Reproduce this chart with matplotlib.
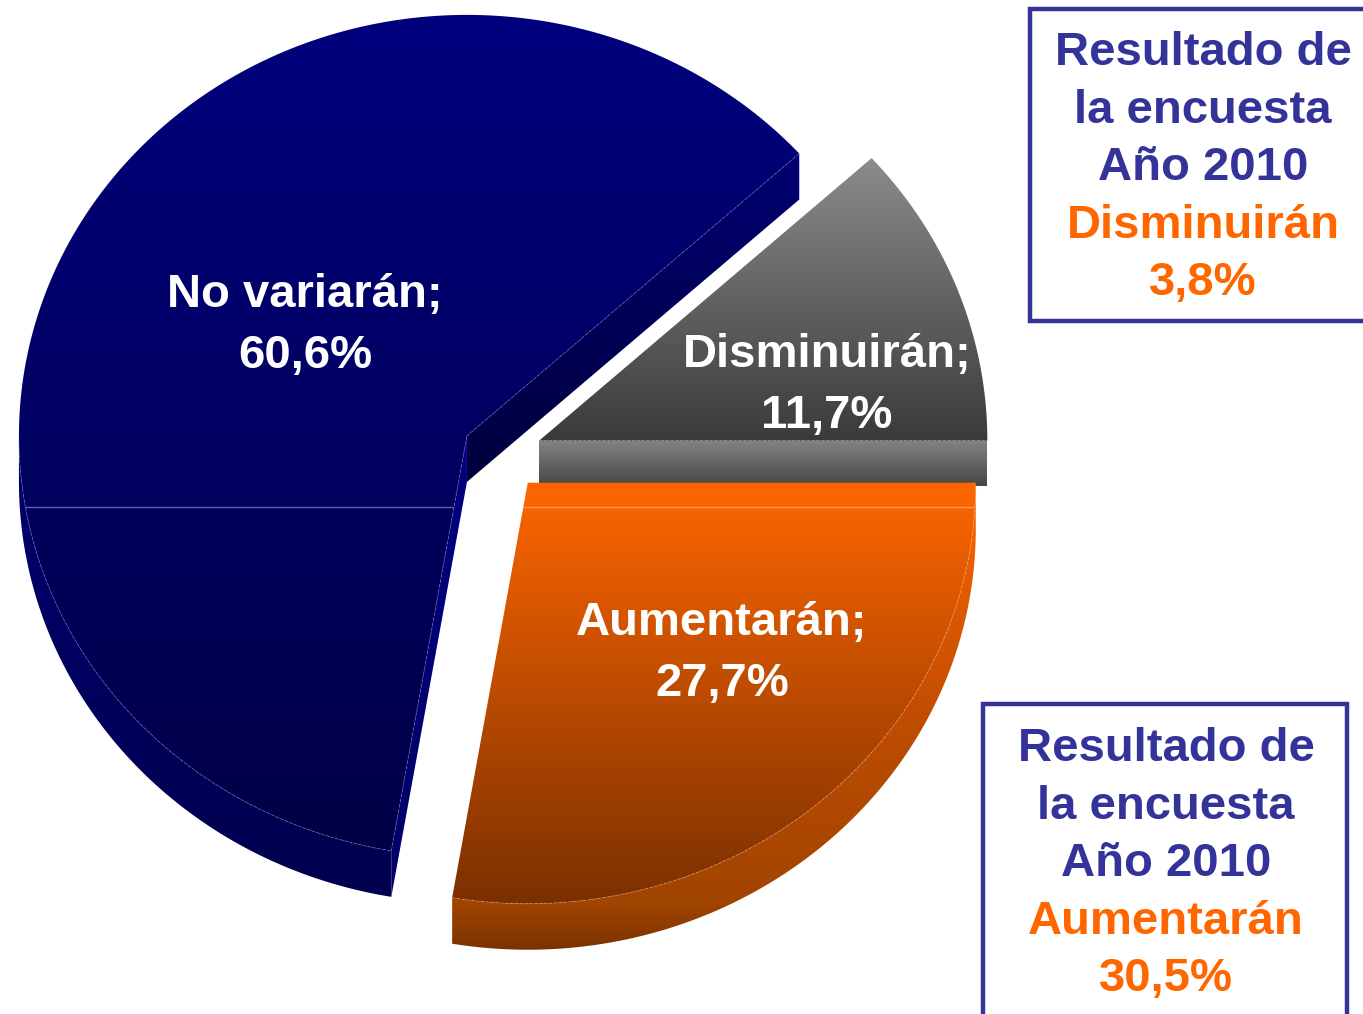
import numpy as np
import matplotlib
matplotlib.use("Agg")
import matplotlib.pyplot as plt
from matplotlib.patches import Polygon, Rectangle
from matplotlib.colors import to_rgb

# Survey result: expected change (share of answers, %)
categories = ["Disminuirán", "No variarán", "Aumentarán"]
shares = [11.7, 60.6, 27.7]

# Side notes: previous-year result
note_header = ["Resultado de", "la encuesta", "Año 2010"]
note_categories = ["Disminuirán", "Aumentarán"]
note_values = [3.8, 30.5]

FONT = ["Liberation Sans", "DejaVu Sans"]
NAVY_TXT = "#333399"
ORANGE = "#FF6600"

# face colour ramps (position along height, colour) per slice
STYLE = {
    "Disminuirán": {"top": [(0, "#8c8c8c"), (1, "#3a3a3a")],
                    "wall": [(0, "#7a7a7a"), (1, "#555555")],
                    "cut": [(0, "#858585"), (1, "#444444")]},
    "No variarán": {"top": [(0, "#00007e"), (1, "#000046")],
                    "wall": [(0, "#000070"), (1, "#00004e")],
                    "cut": [(0, "#000072"), (1, "#00003c")],
                    "cut_end": [(0, "#000082"), (1, "#000066")]},
    "Aumentarán": {"top": [(0, "#ff6600"), (1, "#7a3000")],
                   "wall": [(0, "#ff6600"), (0.5, "#c04d00"),
                            (0.9, "#a04400"), (1, "#7a3200")],
                   "cut": [(0, "#ff6600"), (1, "#7a3000")]},
}

fig = plt.figure(figsize=(13.63, 10.14), dpi=100)
ax = fig.add_axes([0, 0, 1, 1])
W, H = 1363, 1014

# pie geometry (pixel space, y grows downward)
CX, CY = 502.0, 454.0
RX, RY = 448.0, 421.0
DEPTH = 46.0
EXPLODE = 40.0


def pt(c, theta_deg, dy=0.0):
    t = np.deg2rad(theta_deg)
    return (c[0] + RX * np.cos(t), c[1] - RY * np.sin(t) + dy)


def arc(c, a, b, dy=0.0, n=200):
    th = np.linspace(a, b, n)
    t = np.deg2rad(th)
    return np.column_stack([c[0] + RX * np.cos(t), c[1] - RY * np.sin(t) + dy])


def gradient_fill(verts, stops, zorder):
    verts = np.asarray(verts)
    patch = Polygon(verts, closed=True, facecolor="none", edgecolor="none",
                    zorder=zorder)
    ax.add_patch(patch)
    y0, y1 = verts[:, 1].min(), verts[:, 1].max()
    x0, x1 = verts[:, 0].min(), verts[:, 0].max()
    n = 256
    pos = np.array([p for p, _ in stops], dtype=float)
    rgb = np.array([to_rgb(c) for _, c in stops])
    s = np.linspace(0, 1, n)
    col = np.column_stack([np.interp(s, pos, rgb[:, k]) for k in range(3)])
    img = np.repeat(col[:, None, :], 2, axis=1)
    im = ax.imshow(img, extent=(x0 - 1, x1 + 1, y1 + 1, y0 - 1), origin="upper",
                   aspect="auto", interpolation="bilinear", zorder=zorder)
    im.set_clip_path(patch)
    return patch


def faint(points, color, zorder, ls="--", alpha=0.45):
    p = np.asarray(points)
    ax.plot(p[:, 0], p[:, 1], color=color, lw=0.7, ls=ls, alpha=alpha,
            zorder=zorder, dashes=(3, 2) if ls == "--" else (None, None))


total = float(sum(shares))
bounds = np.concatenate([[0.0], np.cumsum(shares) / total * 360.0])
faint_col = {"Disminuirán": "#bbbbbb", "No variarán": "#8888cc",
             "Aumentarán": "#ffb080"}

for i, name in enumerate(categories):
    a1, a2 = bounds[i], bounds[i + 1]
    mid = np.deg2rad((a1 + a2) / 2)
    c = (CX + EXPLODE * np.cos(mid), CY - EXPLODE * (RY / RX) * np.sin(mid))
    st = STYLE[name]
    z = 2 + i * 3

    # outer side wall (front half of the rim)
    lo, hi = max(a1, 180.0), min(a2, 360.0)
    if hi > lo:
        top = arc(c, lo, hi)
        bot = arc(c, lo, hi, DEPTH)[::-1]
        gradient_fill(np.vstack([top, bot]), st["wall"], z)

    # radial cut faces that face the viewer
    if np.cos(np.deg2rad(a1)) > 1e-6:
        p = pt(c, a1)
        verts = [c, p, (p[0], p[1] + DEPTH), (c[0], c[1] + DEPTH)]
        gradient_fill(verts, st["cut"], z)
        faint([c, p], faint_col[name], z + 2)
    if np.cos(np.deg2rad(a2)) < -1e-6:
        p = pt(c, a2)
        verts = [c, p, (p[0], p[1] + DEPTH), (c[0], c[1] + DEPTH)]
        gradient_fill(verts, st.get("cut_end", st["cut"]), z)
        faint([c, p], faint_col[name], z + 2)

    # top face
    top_face = np.vstack([[c], arc(c, a1, a2, n=400)])
    face = gradient_fill(top_face, st["top"], z + 1)
    if hi > lo:
        faint(arc(c, lo, hi), faint_col[name], z + 2)

    # light seam across the lower slices
    if name != "Disminuirán":
        ln, = ax.plot([0, W], [507, 507], color=faint_col[name], lw=1.0,
                      alpha=0.7, zorder=z + 2)
        ln.set_clip_path(face)

# slice labels
label_pos = {"Disminuirán": (827, 367), "No variarán": (305, 307),
             "Aumentarán": (722, 635)}
for name, v in zip(categories, shares):
    x, y = label_pos[name]
    ax.text(x, y, f"{name};", color="white", fontsize=34, fontweight="bold",
            family=FONT, ha="center", va="baseline", zorder=20)
    ax.text(x, y + 61, f"{v:.1f}%".replace(".", ","), color="white",
            fontsize=34, fontweight="bold", family=FONT, ha="center",
            va="baseline", zorder=20)

# note boxes
boxes = [
    {"rect": (1030, 9, 345, 312), "cx": 1203, "base": 65},
    {"rect": (983, 704, 364, 340), "cx": 1166, "base": 761},
]
for box, cat, val in zip(boxes, note_categories, note_values):
    x, y, w, h = box["rect"]
    ax.add_patch(Rectangle((x, y), w, h, facecolor="white", edgecolor=NAVY_TXT,
                           lw=3.2, zorder=10))
    lines = note_header + [cat, f"{val:.1f}%".replace(".", ",")]
    colors = [NAVY_TXT] * len(note_header) + [ORANGE, ORANGE]
    for k, (t, col) in enumerate(zip(lines, colors)):
        ax.text(box["cx"], box["base"] + k * 57.6, t, color=col, fontsize=34,
                fontweight="bold", family=FONT, ha="center", va="baseline",
                zorder=11)

ax.set_xlim(0, W)
ax.set_ylim(H, 0)
ax.axis("off")
fig.savefig("out.png", dpi=100, facecolor="white")
